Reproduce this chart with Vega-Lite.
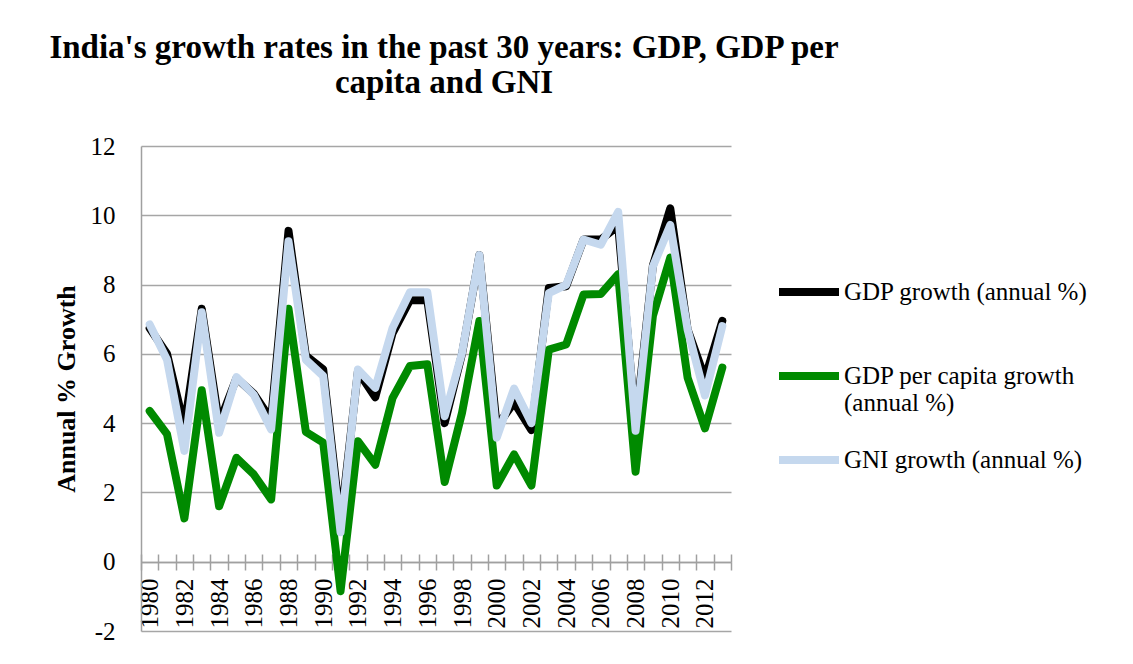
{
  "$schema": "https://vega.github.io/schema/vega-lite/v6.json",
  "width": 590,
  "height": 485,
  "autosize": {"type": "none"},
  "padding": {"left": 141, "top": 146, "right": 402, "bottom": 33},
  "background": "white",
  "config": {
    "font": "Liberation Serif",
    "view": {"stroke": null}
  },
  "title": {
    "text": ["India's growth rates in the past 30 years: GDP, GDP per", "capita and GNI"],
    "font": "Liberation Serif",
    "fontSize": 33,
    "fontWeight": "bold",
    "color": "black",
    "anchor": "middle",
    "dx": 8,
    "offset": 34,
    "lineHeight": 35
  },
  "data": {
    "values": [
      {"year": "1980", "series": "GDP growth (annual %)", "value": 6.74},
      {"year": "1981", "series": "GDP growth (annual %)", "value": 6.0},
      {"year": "1982", "series": "GDP growth (annual %)", "value": 3.9},
      {"year": "1983", "series": "GDP growth (annual %)", "value": 7.3},
      {"year": "1984", "series": "GDP growth (annual %)", "value": 4.0},
      {"year": "1985", "series": "GDP growth (annual %)", "value": 5.3},
      {"year": "1986", "series": "GDP growth (annual %)", "value": 4.85},
      {"year": "1987", "series": "GDP growth (annual %)", "value": 4.1},
      {"year": "1988", "series": "GDP growth (annual %)", "value": 9.55},
      {"year": "1989", "series": "GDP growth (annual %)", "value": 5.95},
      {"year": "1990", "series": "GDP growth (annual %)", "value": 5.55},
      {"year": "1991", "series": "GDP growth (annual %)", "value": 1.1},
      {"year": "1992", "series": "GDP growth (annual %)", "value": 5.5},
      {"year": "1993", "series": "GDP growth (annual %)", "value": 4.75},
      {"year": "1994", "series": "GDP growth (annual %)", "value": 6.6},
      {"year": "1995", "series": "GDP growth (annual %)", "value": 7.55},
      {"year": "1996", "series": "GDP growth (annual %)", "value": 7.55},
      {"year": "1997", "series": "GDP growth (annual %)", "value": 4.0},
      {"year": "1998", "series": "GDP growth (annual %)", "value": 6.0},
      {"year": "1999", "series": "GDP growth (annual %)", "value": 8.85},
      {"year": "2000", "series": "GDP growth (annual %)", "value": 3.9},
      {"year": "2001", "series": "GDP growth (annual %)", "value": 4.6},
      {"year": "2002", "series": "GDP growth (annual %)", "value": 3.8},
      {"year": "2003", "series": "GDP growth (annual %)", "value": 7.9},
      {"year": "2004", "series": "GDP growth (annual %)", "value": 7.95},
      {"year": "2005", "series": "GDP growth (annual %)", "value": 9.3},
      {"year": "2006", "series": "GDP growth (annual %)", "value": 9.3},
      {"year": "2007", "series": "GDP growth (annual %)", "value": 9.7},
      {"year": "2008", "series": "GDP growth (annual %)", "value": 3.95},
      {"year": "2009", "series": "GDP growth (annual %)", "value": 8.55},
      {"year": "2010", "series": "GDP growth (annual %)", "value": 10.2},
      {"year": "2011", "series": "GDP growth (annual %)", "value": 6.7},
      {"year": "2012", "series": "GDP growth (annual %)", "value": 5.3},
      {"year": "2013", "series": "GDP growth (annual %)", "value": 6.95},
      {"year": "1980", "series": "GDP per capita growth (annual %)", "value": 4.35},
      {"year": "1981", "series": "GDP per capita growth (annual %)", "value": 3.68},
      {"year": "1982", "series": "GDP per capita growth (annual %)", "value": 1.25},
      {"year": "1983", "series": "GDP per capita growth (annual %)", "value": 4.95},
      {"year": "1984", "series": "GDP per capita growth (annual %)", "value": 1.6},
      {"year": "1985", "series": "GDP per capita growth (annual %)", "value": 3.0},
      {"year": "1986", "series": "GDP per capita growth (annual %)", "value": 2.52},
      {"year": "1987", "series": "GDP per capita growth (annual %)", "value": 1.8},
      {"year": "1988", "series": "GDP per capita growth (annual %)", "value": 7.3},
      {"year": "1989", "series": "GDP per capita growth (annual %)", "value": 3.75},
      {"year": "1990", "series": "GDP per capita growth (annual %)", "value": 3.44},
      {"year": "1991", "series": "GDP per capita growth (annual %)", "value": -0.85},
      {"year": "1992", "series": "GDP per capita growth (annual %)", "value": 3.48},
      {"year": "1993", "series": "GDP per capita growth (annual %)", "value": 2.8},
      {"year": "1994", "series": "GDP per capita growth (annual %)", "value": 4.73},
      {"year": "1995", "series": "GDP per capita growth (annual %)", "value": 5.65},
      {"year": "1996", "series": "GDP per capita growth (annual %)", "value": 5.7},
      {"year": "1997", "series": "GDP per capita growth (annual %)", "value": 2.3},
      {"year": "1998", "series": "GDP per capita growth (annual %)", "value": 4.3},
      {"year": "1999", "series": "GDP per capita growth (annual %)", "value": 6.95},
      {"year": "2000", "series": "GDP per capita growth (annual %)", "value": 2.2},
      {"year": "2001", "series": "GDP per capita growth (annual %)", "value": 3.1},
      {"year": "2002", "series": "GDP per capita growth (annual %)", "value": 2.2},
      {"year": "2003", "series": "GDP per capita growth (annual %)", "value": 6.12},
      {"year": "2004", "series": "GDP per capita growth (annual %)", "value": 6.27},
      {"year": "2005", "series": "GDP per capita growth (annual %)", "value": 7.71},
      {"year": "2006", "series": "GDP per capita growth (annual %)", "value": 7.73},
      {"year": "2007", "series": "GDP per capita growth (annual %)", "value": 8.3},
      {"year": "2008", "series": "GDP per capita growth (annual %)", "value": 2.6},
      {"year": "2009", "series": "GDP per capita growth (annual %)", "value": 7.1},
      {"year": "2010", "series": "GDP per capita growth (annual %)", "value": 8.78},
      {"year": "2011", "series": "GDP per capita growth (annual %)", "value": 5.31},
      {"year": "2012", "series": "GDP per capita growth (annual %)", "value": 3.85},
      {"year": "2013", "series": "GDP per capita growth (annual %)", "value": 5.6},
      {"year": "1980", "series": "GNI growth (annual %)", "value": 6.85},
      {"year": "1981", "series": "GNI growth (annual %)", "value": 5.83},
      {"year": "1982", "series": "GNI growth (annual %)", "value": 3.2},
      {"year": "1983", "series": "GNI growth (annual %)", "value": 7.2},
      {"year": "1984", "series": "GNI growth (annual %)", "value": 3.72},
      {"year": "1985", "series": "GNI growth (annual %)", "value": 5.33},
      {"year": "1986", "series": "GNI growth (annual %)", "value": 4.82},
      {"year": "1987", "series": "GNI growth (annual %)", "value": 3.82},
      {"year": "1988", "series": "GNI growth (annual %)", "value": 9.25},
      {"year": "1989", "series": "GNI growth (annual %)", "value": 5.83},
      {"year": "1990", "series": "GNI growth (annual %)", "value": 5.36},
      {"year": "1991", "series": "GNI growth (annual %)", "value": 0.85},
      {"year": "1992", "series": "GNI growth (annual %)", "value": 5.55},
      {"year": "1993", "series": "GNI growth (annual %)", "value": 5.02},
      {"year": "1994", "series": "GNI growth (annual %)", "value": 6.75},
      {"year": "1995", "series": "GNI growth (annual %)", "value": 7.78},
      {"year": "1996", "series": "GNI growth (annual %)", "value": 7.78},
      {"year": "1997", "series": "GNI growth (annual %)", "value": 4.2},
      {"year": "1998", "series": "GNI growth (annual %)", "value": 6.03},
      {"year": "1999", "series": "GNI growth (annual %)", "value": 8.85},
      {"year": "2000", "series": "GNI growth (annual %)", "value": 3.58},
      {"year": "2001", "series": "GNI growth (annual %)", "value": 5.0},
      {"year": "2002", "series": "GNI growth (annual %)", "value": 4.0},
      {"year": "2003", "series": "GNI growth (annual %)", "value": 7.75},
      {"year": "2004", "series": "GNI growth (annual %)", "value": 7.99},
      {"year": "2005", "series": "GNI growth (annual %)", "value": 9.3},
      {"year": "2006", "series": "GNI growth (annual %)", "value": 9.15},
      {"year": "2007", "series": "GNI growth (annual %)", "value": 10.1},
      {"year": "2008", "series": "GNI growth (annual %)", "value": 3.78},
      {"year": "2009", "series": "GNI growth (annual %)", "value": 8.52},
      {"year": "2010", "series": "GNI growth (annual %)", "value": 9.72},
      {"year": "2011", "series": "GNI growth (annual %)", "value": 6.7},
      {"year": "2012", "series": "GNI growth (annual %)", "value": 4.8},
      {"year": "2013", "series": "GNI growth (annual %)", "value": 6.8}
    ]
  },
  "encoding": {
    "x": {
      "field": "year",
      "type": "ordinal",
      "sort": null,
      "scale": {"type": "band", "paddingInner": 0, "paddingOuter": 0}
    },
    "y": {
      "field": "value",
      "type": "quantitative",
      "scale": {"domain": [-2, 12], "nice": false, "zero": false},
      "axis": {
        "values": [-2, 0, 2, 4, 6, 8, 10, 12],
        "labelExpr": "datum.value < 0 ? '-' + abs(datum.value) : datum.label",
        "title": "Annual % Growth",
        "titleFont": "Liberation Serif",
        "titleFontSize": 26,
        "titleFontWeight": "bold",
        "titleColor": "black",
        "titlePadding": 11,
        "labelFont": "Liberation Serif",
        "labelFontSize": 25,
        "labelColor": "black",
        "labelPadding": 26,
        "ticks": false,
        "tickSize": 0,
        "domainColor": "#a0a0a0",
        "domainWidth": 1.5,
        "gridColor": "#a6a6a6",
        "gridWidth": 1.5
      }
    }
  },
  "layer": [
    {
      "mark": {"type": "line", "strokeWidth": 8, "strokeJoin": "round", "strokeCap": "round"},
      "encoding": {
        "x": {
          "field": "year",
          "type": "ordinal",
          "sort": null,
          "axis": {
            "orient": "bottom",
            "title": null,
            "offset": -69,
            "tickBand": "extent",
            "tickSize": 8,
            "tickColor": "#a0a0a0",
            "tickWidth": 1.5,
            "domainColor": "#a0a0a0",
            "domainWidth": 1.5,
            "labelAngle": -90,
            "labelFont": "Liberation Serif",
            "labelFontSize": 25,
            "labelColor": "black",
            "labelPadding": 8,
            "labelExpr": "parseInt(datum.value) % 2 == 0 ? datum.label : ''",
            "grid": false
          }
        },
        "color": {
          "field": "series",
          "type": "nominal",
          "sort": ["GDP growth (annual %)", "GDP per capita growth (annual %)", "GNI growth (annual %)"],
          "scale": {
            "domain": ["GDP growth (annual %)", "GDP per capita growth (annual %)", "GNI growth (annual %)"],
            "range": ["#000000", "#008a00", "#c5d8ee"]
          },
          "legend": {
            "title": null,
            "orient": "none",
            "legendX": 634,
            "legendY": 112,
            "padding": 0,
            "symbolType": "stroke",
            "symbolStrokeWidth": 8,
            "symbolSize": 3600,
            "labelFont": "Liberation Serif",
            "labelFontSize": 25,
            "labelColor": "black",
            "labelOffset": 1,
            "labelLimit": 400,
            "rowPadding": 10,
            "labelExpr": "datum.label == 'GDP per capita growth (annual %)' ? ['GDP per capita growth', '(annual %)'] : [datum.label, ' ']"
          }
        }
      }
    },
    {
      "mark": {"type": "point", "opacity": 0},
      "encoding": {
        "x": {
          "field": "year",
          "type": "ordinal",
          "sort": null,
          "axis": {
            "orient": "bottom",
            "title": null,
            "offset": -69,
            "tickBand": "extent",
            "tickSize": -8,
            "tickColor": "#a0a0a0",
            "tickWidth": 1.5,
            "domain": false,
            "labels": false,
            "grid": false
          }
        }
      }
    }
  ],
  "resolve": {"axis": {"x": "independent"}}
}
